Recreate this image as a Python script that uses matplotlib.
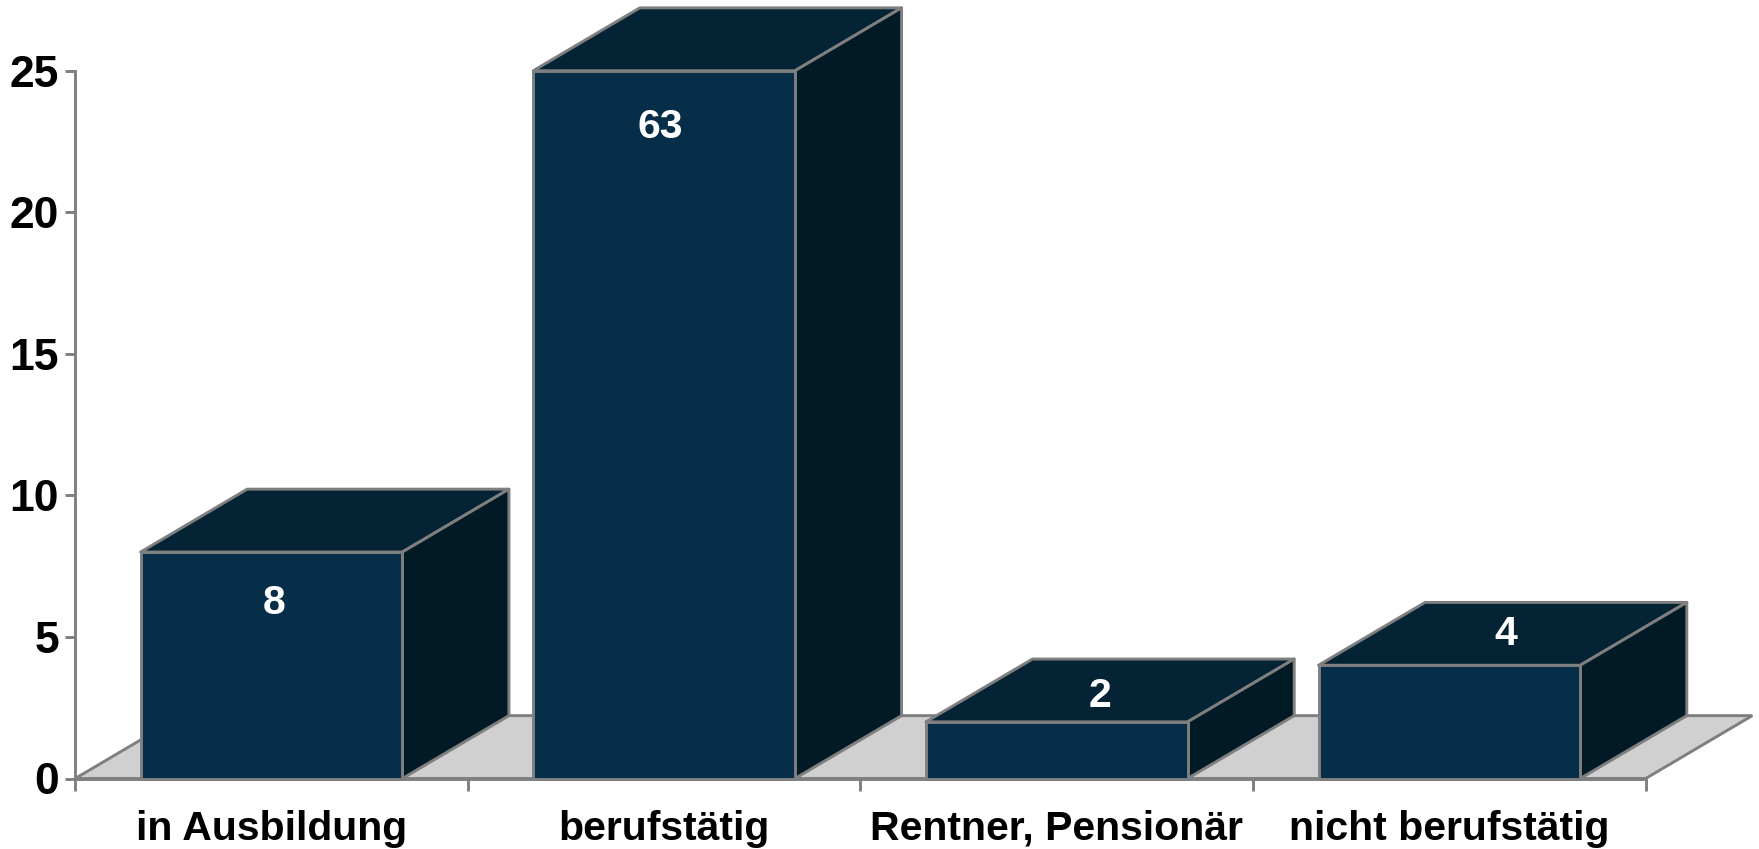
import matplotlib
matplotlib.use("Agg")
import matplotlib.pyplot as plt
from matplotlib.patches import Polygon

plt.rcParams['font.family'] = ['Liberation Sans', 'DejaVu Sans']

categories = ['in Ausbildung', 'berufstätig', 'Rentner, Pensionär', 'nicht berufstätig']
heights = [8, 25, 2, 4]  # bar 2 is cut off at the axis max
labels = ['8', '63', '2', '4']
y_ticks = [0, 5, 10, 15, 20, 25]

front_col = '#072e48'
top_col = '#042335'
side_col = '#021a25'
floor_col = '#d0d0d0'
edge_col = '#7f7f7f'
lw = 2.1

bar_w = 2 / 3
depth_x = 0.2714  # 3d offset in category units
depth_y = 2.22    # 3d offset in value units

fig = plt.figure(figsize=(17.59, 8.49), dpi=100)
ax = fig.add_axes([75.2 / 1759, 70.5 / 849, 1570.5 / 1759, 707.8 / 849])
ax.set_xlim(0, len(categories))
ax.set_ylim(0, 25)

for s in ['top', 'right']:
    ax.spines[s].set_visible(False)
for s in ['left', 'bottom']:
    ax.spines[s].set_color(edge_col)
    ax.spines[s].set_linewidth(lw)
    ax.spines[s].set_zorder(1.5)

# floor of the 3d box
n = len(categories)
ax.add_patch(Polygon([(0, 0), (n, 0), (n + depth_x, depth_y), (depth_x, depth_y)],
                     closed=True, fc=floor_col, ec=edge_col, lw=lw, clip_on=False, zorder=1))

for i, h in enumerate(heights):
    x0 = i + (1 - bar_w) / 2
    x1 = x0 + bar_w
    z = 2 + i
    # top face
    ax.add_patch(Polygon([(x0, h), (x1, h), (x1 + depth_x, h + depth_y), (x0 + depth_x, h + depth_y)],
                         closed=True, fc=top_col, ec=edge_col, lw=lw, clip_on=False, zorder=z,
                         joinstyle='round'))
    # right side
    ax.add_patch(Polygon([(x1, 0), (x1 + depth_x, depth_y), (x1 + depth_x, h + depth_y), (x1, h)],
                         closed=True, fc=side_col, ec=edge_col, lw=lw, clip_on=False, zorder=z,
                         joinstyle='round'))
    ax.bar(i + 0.5, h, width=bar_w, color=front_col, edgecolor=edge_col, linewidth=lw,
           zorder=z + 0.5, clip_on=False)

# value labels, tall bars inside the front face, flat ones on the top face
ax.annotate(labels[0], (0.5, heights[0]), xytext=(3, -51), textcoords='offset pixels',
            ha='center', va='center', color='white', fontsize=29.5, fontweight='bold', zorder=10)
ax.annotate(labels[1], (1.5, heights[1]), xytext=(-4, -56), textcoords='offset pixels',
            ha='center', va='center', color='white', fontsize=29.5, fontweight='bold', zorder=10)
ax.annotate(labels[2], (2.5, heights[2]), xytext=(43, 26), textcoords='offset pixels',
            ha='center', va='center', color='white', fontsize=29.5, fontweight='bold', zorder=10)
ax.annotate(labels[3], (3.5, heights[3]), xytext=(56, 31), textcoords='offset pixels',
            ha='center', va='center', color='white', fontsize=29.5, fontweight='bold', zorder=10)

ax.set_yticks(y_ticks)
ax.set_yticklabels([str(v) for v in y_ticks], fontsize=32, fontweight='bold')
ax.set_xticks(range(n + 1))
ax.set_xticklabels([])
ax.set_xticks([i + 0.5 for i in range(n)], minor=True)
ax.set_xticklabels(categories, minor=True, fontsize=29.5, fontweight='bold')
ax.tick_params(axis='y', length=7.5, width=lw, color=edge_col, pad=4)
ax.tick_params(axis='x', which='major', length=8.5, width=lw, color=edge_col)
ax.tick_params(axis='x', which='minor', length=0, pad=22.5)

fig.savefig('out.png', dpi=100)
